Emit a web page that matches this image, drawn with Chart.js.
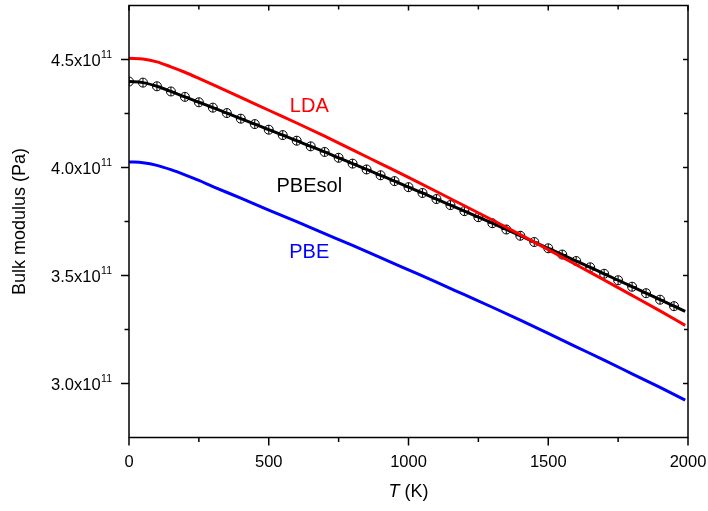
<!DOCTYPE html>
<html>
<head>
<meta charset="utf-8">
<script src="https://cdn.jsdelivr.net/npm/chart.js@4"></script>
<style>
  body { margin: 0; background: #fff; }
  canvas { display: block; }
</style>
</head>
<body>
<canvas id="bulk-chart" width="708" height="511"></canvas>
<script>
// temperatures (K)
var temps = [0, 50, 100, 150, 200, 250, 300, 400, 500, 600, 700, 800, 900, 1000,
             1100, 1200, 1300, 1400, 1500, 1600, 1700, 1800, 1900, 1990];
// bulk modulus in units of 1e11 Pa
var lda = [4.506, 4.502, 4.489, 4.466, 4.441, 4.413, 4.384, 4.325, 4.265, 4.206, 4.145,
           4.082, 4.018, 3.954, 3.889, 3.823, 3.757, 3.689, 3.620, 3.550, 3.479, 3.408,
           3.336, 3.269];
var pbe = [4.026, 4.022, 4.010, 3.990, 3.966, 3.940, 3.912, 3.858, 3.803, 3.749, 3.694,
           3.639, 3.583, 3.526, 3.469, 3.411, 3.353, 3.293, 3.232, 3.170, 3.108, 3.045,
           2.982, 2.923];
// PBEsol is sampled every 50 K (markers)
var tempsSol = [0, 50, 100, 150, 200, 250, 300, 350, 400, 450, 500, 550, 600, 650, 700,
                750, 800, 850, 900, 950, 1000, 1050, 1100, 1150, 1200, 1250, 1300, 1350,
                1400, 1450, 1500, 1550, 1600, 1650, 1700, 1750, 1800, 1850, 1900, 1950, 1990];
var pbesol = [4.398, 4.393, 4.376, 4.352, 4.327, 4.302, 4.277, 4.252, 4.226, 4.201, 4.175,
              4.150, 4.124, 4.098, 4.072, 4.045, 4.018, 3.991, 3.964, 3.937, 3.909, 3.882,
              3.854, 3.826, 3.798, 3.770, 3.742, 3.713, 3.684, 3.655, 3.626, 3.597, 3.567,
              3.538, 3.508, 3.478, 3.448, 3.418, 3.388, 3.358, 3.334];

var xTicks = [0, 500, 1000, 1500, 2000];
var xMinor = [250, 750, 1250, 1750];
var yTicks = [3.0e11, 3.5e11, 4.0e11, 4.5e11];
var yMinor = [3.25e11, 3.75e11, 4.25e11];
var yTickLabels = ["3.0x10", "3.5x10", "4.0x10", "4.5x10"];
var yExponent = "11";

// labels placed next to the curves (T, value)
var curveLabels = [
  { text: "LDA", color: "#ff0000", x: 645, y: 4.258e11 },
  { text: "PBEsol", color: "#000000", x: 645, y: 3.888e11 },
  { text: "PBE", color: "#0000ff", x: 645, y: 3.580e11 }
];

var FONT = '"Liberation Sans", Arial, sans-serif';

function toPoints(xs, ys) {
  return xs.map(function (t, i) { return { x: t, y: ys[i] * 1e11 }; });
}

var axesPlugin = {
  id: 'axesPlugin',
  afterDraw: function (chart) {
    var ctx = chart.ctx;
    var a = chart.chartArea;
    var xs = chart.scales.x, ys = chart.scales.y;
    ctx.save();
    ctx.strokeStyle = '#000';
    ctx.lineWidth = 1.5;
    ctx.strokeRect(a.left, a.top, a.right - a.left, a.bottom - a.top);

    function tick(x1, y1, x2, y2) {
      ctx.beginPath(); ctx.moveTo(x1, y1); ctx.lineTo(x2, y2); ctx.stroke();
    }
    xTicks.forEach(function (v) {
      var px = xs.getPixelForValue(v);
      tick(px, a.bottom, px, a.bottom + 8);
      tick(px, a.top, px, a.top + 5);
    });
    xMinor.forEach(function (v) {
      var px = xs.getPixelForValue(v);
      tick(px, a.bottom, px, a.bottom + 4.5);
      tick(px, a.top, px, a.top + 4);
    });
    yTicks.forEach(function (v) {
      var py = ys.getPixelForValue(v);
      tick(a.left - 8, py, a.left, py);
      tick(a.right - 5, py, a.right, py);
    });
    yMinor.forEach(function (v) {
      var py = ys.getPixelForValue(v);
      tick(a.left - 4.5, py, a.left, py);
      tick(a.right - 4, py, a.right, py);
    });

    ctx.fillStyle = '#000';
    // x tick labels
    ctx.font = '16.5px ' + FONT;
    ctx.textAlign = 'center';
    ctx.textBaseline = 'alphabetic';
    xTicks.forEach(function (v) {
      ctx.fillText(String(v), xs.getPixelForValue(v), a.bottom + 29);
    });

    // y tick labels with superscript exponent
    var rightEdge = a.left - 17;
    ctx.font = '10.5px ' + FONT;
    var supW = ctx.measureText(yExponent).width;
    yTicks.forEach(function (v, i) {
      var py = ys.getPixelForValue(v);
      ctx.font = '16.5px ' + FONT;
      ctx.textAlign = 'right';
      ctx.textBaseline = 'alphabetic';
      ctx.fillText(yTickLabels[i], rightEdge - supW - 0.5, py + 6.5);
      ctx.font = '10.5px ' + FONT;
      ctx.textAlign = 'left';
      ctx.fillText(yExponent, rightEdge - supW, py - 2);
    });

    // x axis title: italic T
    var cx = (a.left + a.right) / 2;
    ctx.font = 'italic 18px ' + FONT;
    var wT = ctx.measureText('T').width;
    ctx.font = '18px ' + FONT;
    var wRest = ctx.measureText(' (K)').width;
    var start = cx - (wT + wRest) / 2;
    ctx.textAlign = 'left';
    ctx.textBaseline = 'alphabetic';
    ctx.font = 'italic 18px ' + FONT;
    ctx.fillText('T', start, 497);
    ctx.font = '18px ' + FONT;
    ctx.fillText(' (K)', start + wT, 497);

    // y axis title
    ctx.save();
    ctx.translate(25, (a.top + a.bottom) / 2);
    ctx.rotate(-Math.PI / 2);
    ctx.textAlign = 'center';
    ctx.fillText('Bulk modulus (Pa)', 0, 0);
    ctx.restore();

    // curve labels
    ctx.font = '20px ' + FONT;
    ctx.textAlign = 'center';
    curveLabels.forEach(function (l) {
      ctx.fillStyle = l.color;
      ctx.fillText(l.text, xs.getPixelForValue(l.x), ys.getPixelForValue(l.y));
    });
    ctx.restore();
  }
};

var lastSol = tempsSol.length - 1;
function solRadius(ctx) { return ctx.dataIndex === lastSol ? 0 : 4.5; }

new Chart(document.getElementById('bulk-chart'), {
  type: 'line',
  data: {
    datasets: [{
      label: 'LDA',
      data: toPoints(temps, lda),
      borderColor: '#ff0000',
      borderWidth: 3,
      pointRadius: 0,
      fill: false,
      cubicInterpolationMode: 'monotone'
    }, {
      label: 'PBEsol cross',
      data: toPoints(tempsSol, pbesol),
      showLine: false,
      pointStyle: 'cross',
      pointRadius: solRadius,
      pointBorderColor: '#000',
      pointBorderWidth: 1
    }, {
      label: 'PBEsol',
      data: toPoints(tempsSol, pbesol),
      borderColor: '#000000',
      borderWidth: 3,
      pointStyle: 'circle',
      pointRadius: solRadius,
      pointBorderColor: '#000',
      pointBackgroundColor: 'rgba(0,0,0,0)',
      pointBorderWidth: 1,
      fill: false,
      cubicInterpolationMode: 'monotone'
    }, {
      label: 'PBE',
      data: toPoints(temps, pbe),
      borderColor: '#0000ff',
      borderWidth: 3,
      pointRadius: 0,
      fill: false,
      cubicInterpolationMode: 'monotone'
    }]
  },
  options: {
    responsive: false,
    animation: false,
    devicePixelRatio: 1,
    layout: { padding: { left: 129, right: 20, top: 5, bottom: 73.5 } },
    plugins: { legend: { display: false }, tooltip: { enabled: false } },
    scales: {
      x: { type: 'linear', min: 0, max: 2000, display: false },
      y: { type: 'linear', min: 2.75e11, max: 4.75e11, display: false }
    }
  },
  plugins: [axesPlugin]
});
</script>
</body>
</html>
